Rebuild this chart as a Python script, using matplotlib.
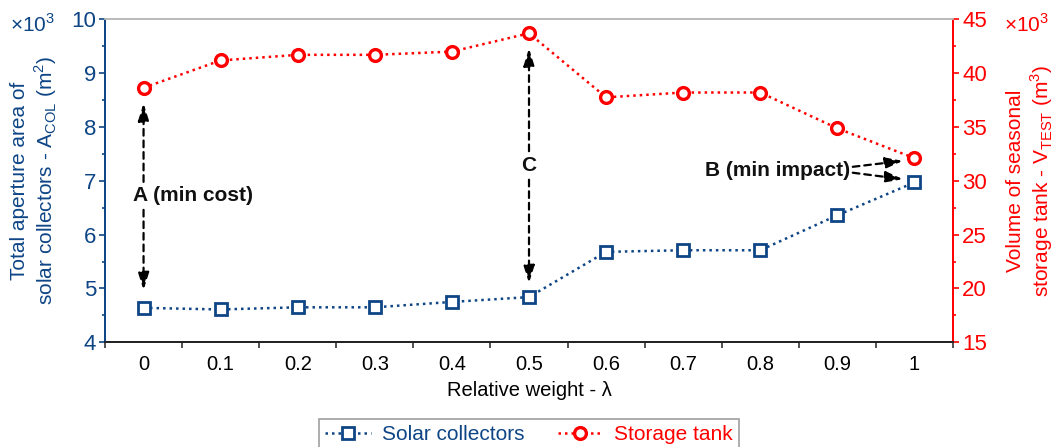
import matplotlib.pyplot as plt
import numpy as np

plt.rcParams['font.family'] = ['Liberation Sans', 'DejaVu Sans']
plt.rcParams['mathtext.fontset'] = 'custom'
plt.rcParams['mathtext.rm'] = 'Liberation Sans'

# relative weight lambda and the optimal designs (both in thousands)
weights = ['0', '0.1', '0.2', '0.3', '0.4', '0.5', '0.6', '0.7', '0.8', '0.9', '1']
collector_area = [4.64, 4.61, 4.65, 4.65, 4.75, 4.84, 5.68, 5.71, 5.71, 6.36, 6.97]
tank_volume = [38.64, 41.18, 41.7, 41.7, 42.0, 43.7, 37.75, 38.2, 38.2, 34.87, 32.1]

blue = '#0E4585'
red = '#FF0000'

fig = plt.figure(figsize=(10.53, 4.47), dpi=100)
ax1 = fig.add_axes([105 / 1053, 1 - 342.3 / 447, (953 - 105) / 1053, (342.3 - 19.3) / 447])
ax2 = ax1.twinx()

x = np.arange(len(weights))
dots = (0, (1, 1.6))
l1, = ax1.plot(x, collector_area, linestyle=dots, linewidth=1.8, color=blue, marker='s',
               markersize=9, markerfacecolor='white', markeredgewidth=2, label='Solar collectors')
l2, = ax2.plot(x, tank_volume, linestyle=dots, linewidth=1.8, color=red, marker='o',
               markersize=8.5, markerfacecolor='white', markeredgewidth=2.4, label='Storage tank')

ax1.set_xlim(-0.5, len(weights) - 0.5)
ax1.set_ylim(4, 10)
ax2.set_ylim(15, 45)

ax1.set_xticks(x)
ax1.set_xticklabels(weights)
ax1.set_xticks(np.arange(-0.5, len(weights), 1), minor=True)
ax1.tick_params(axis='x', which='major', length=0, pad=9, labelsize=14.5)
ax1.tick_params(axis='x', which='minor', length=4, width=1.2, color='#333333')

ax1.set_yticks(np.arange(4, 10.1, 1))
ax1.set_yticks(np.arange(4, 10.1, 0.5), minor=True)
ax1.tick_params(axis='y', which='major', length=4.5, width=1.2, colors=blue, labelsize=16, pad=2)
ax1.tick_params(axis='y', which='minor', length=2.5, width=1.2, colors=blue)

ax2.set_yticks(np.arange(15, 45.1, 5))
ax2.set_yticks(np.arange(15, 45.1, 2.5), minor=True)
ax2.tick_params(axis='y', which='major', length=4.5, width=1.2, colors=red, labelsize=16, pad=2)
ax2.tick_params(axis='y', which='minor', length=2.5, width=1.2, colors=red)

for ax in (ax1, ax2):
    ax.spines['top'].set_color('#BBBBBB')
    ax.spines['bottom'].set_color('#222222')
    ax.spines['left'].set_color(blue)
    ax.spines['right'].set_color(red)
    for s in ax.spines.values():
        s.set_linewidth(1.3)

ax1.set_xlabel('Relative weight - λ', fontsize=14.5, labelpad=5)
ax1.set_ylabel('Total aperture area of\nsolar collectors - A$_{\\mathregular{COL}}$ (m$^{\\mathregular{2}}$)',
               color=blue, fontsize=15, labelpad=9, linespacing=1.15)
ax2.set_ylabel('Volume of seasonal\nstorage tank - V$_{\\mathregular{TEST}}$ (m$^{\\mathregular{3}}$)',
               color=red, fontsize=15, labelpad=14, linespacing=1.15)

fig.text(33 / 1053, 1 - 24 / 447, '×10$^{\\mathregular{3}}$', color=blue, fontsize=15, ha='center', va='center')
fig.text(1027 / 1053, 1 - 24 / 447, '×10$^{\\mathregular{3}}$', color=red, fontsize=15, ha='center', va='center')

# dashed double arrows marking the notable solutions
arrow = dict(arrowstyle='-|>,head_length=0.7,head_width=0.22', mutation_scale=15,
             linestyle=(0, (3, 2.2)), color='black', linewidth=1.6, shrinkA=0, shrinkB=0)
bold = dict(fontsize=15, fontweight='bold', color='#111111')

ax1.text(-0.14, 6.72, 'A (min cost)', ha='left', va='center', **bold)
ax1.annotate('', xy=(0, 8.44), xytext=(0, 6.98), arrowprops=arrow)
ax1.annotate('', xy=(0, 4.97), xytext=(0, 6.46), arrowprops=arrow)

ax1.text(5, 7.28, 'C', ha='center', va='center', **bold)
ax1.annotate('', xy=(5, 9.46), xytext=(5, 7.55), arrowprops=arrow)
ax1.annotate('', xy=(5, 5.10), xytext=(5, 7.02), arrowprops=arrow)

ax1.text(9.16, 7.20, 'B (min impact)', ha='right', va='center', **bold)
ax1.annotate('', xy=(9.85, 7.37), xytext=(9.2, 7.26), arrowprops=arrow)
ax1.annotate('', xy=(9.85, 7.03), xytext=(9.2, 7.15), arrowprops=arrow)

leg = ax1.legend(handles=[l1, l2], loc='upper center', bbox_to_anchor=(0.5, -0.2375), ncol=2,
                 fontsize=15, frameon=True, fancybox=False, edgecolor='#888888',
                 handlelength=2.2, handletextpad=0.5, columnspacing=1.6, borderpad=0.3,
                 borderaxespad=0)
leg.get_frame().set_linewidth(1.2)
for txt, c in zip(leg.get_texts(), (blue, red)):
    txt.set_color(c)

fig.savefig('out.png', dpi=100)
